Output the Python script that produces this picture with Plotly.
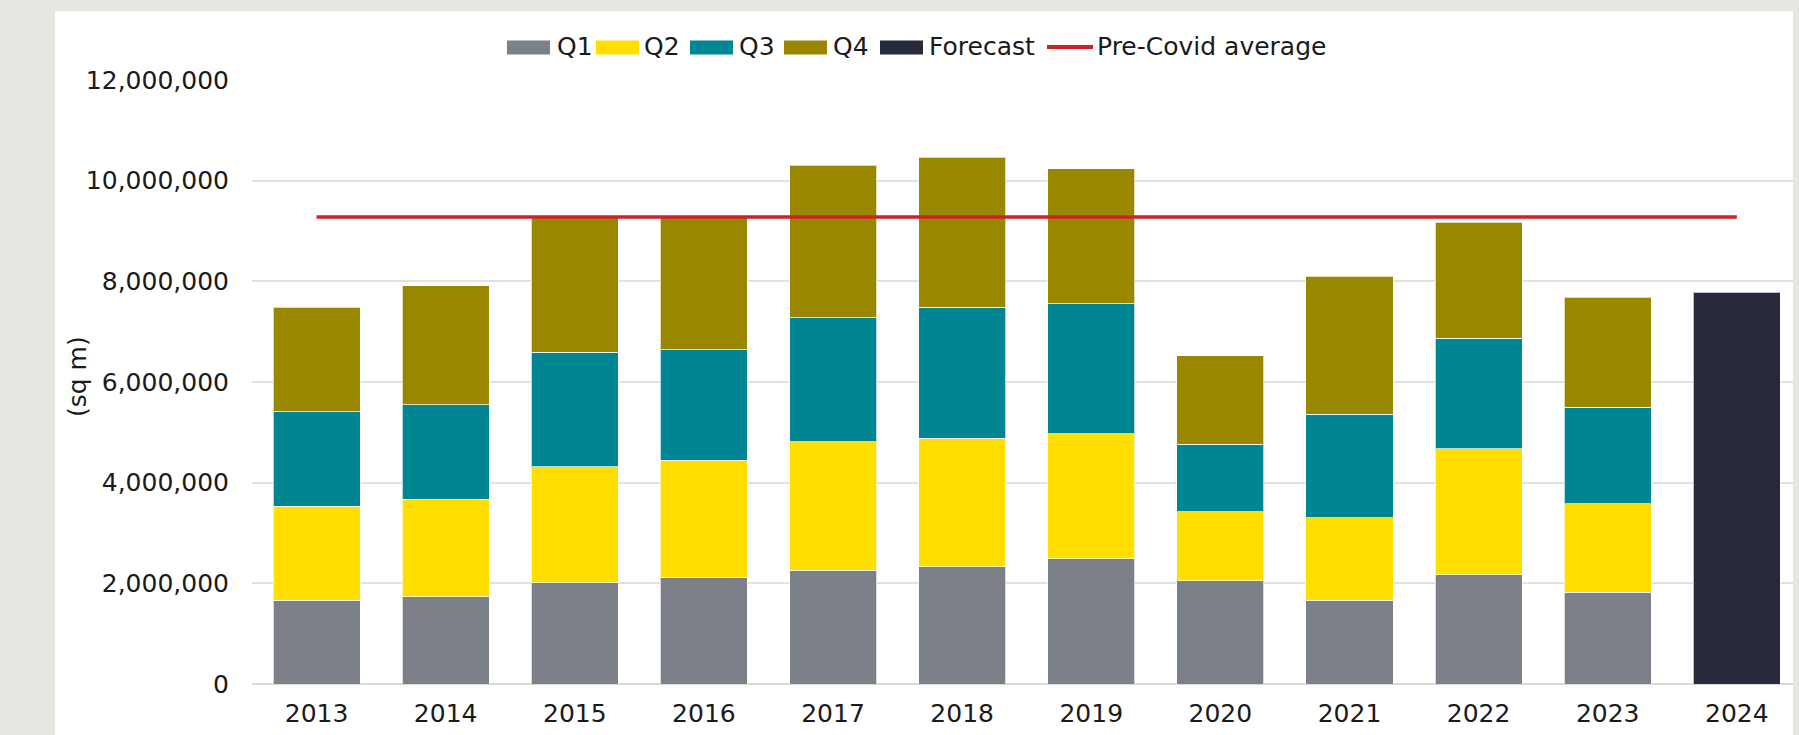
import plotly.graph_objects as go

years = ["2013", "2014", "2015", "2016", "2017", "2018", "2019", "2020", "2021", "2022", "2023", "2024"]
q1 = [1665000, 1734000, 2008000, 2122000, 2258000, 2327000, 2487000, 2053000, 1665000, 2167000, 1825000, None]
q2 = [1871000, 1939000, 2304000, 2327000, 2556000, 2555000, 2486000, 1369000, 1643000, 2510000, 1757000, None]
q3 = [1871000, 1871000, 2281000, 2190000, 2463000, 2601000, 2578000, 1346000, 2053000, 2190000, 1916000, None]
q4 = [2076000, 2372000, 2687000, 2621000, 3033000, 2987000, 2689000, 1757000, 2738000, 2303000, 2190000, None]
forecast = [None] * 11 + [7779000]
precovid_avg = 9280000

names = ["Q1", "Q2", "Q3", "Q4", "Forecast"]
colors = ["#7B8089", "#FFDE00", "#008692", "#998700", "#262A3B"]
line_name = "Pre-Covid average"
line_color = "#D0202A"

W, H = 1799, 735
L, R, T, B = 252, 6, 80, 51
pw, ph = W - L - R, H - T - B


def px(x):
    return (x - L) / pw


def py(y):
    return (H - B - y) / ph


FONT = "DejaVu Sans"
TXT = "#1A1A1A"

fig = go.Figure()
for name, vals, col in zip(names, [q1, q2, q3, q4, forecast], colors):
    fig.add_trace(go.Bar(x=years, y=vals, name=name,
                         marker=dict(color=col, line=dict(color="rgba(255,255,255,0.7)", width=1))))

fig.add_trace(go.Scatter(x=years, y=[precovid_avg] * len(years), name=line_name, mode="lines",
                         line=dict(color=line_color, width=3.5)))

# custom legend (wide rectangle swatches like the reference)
rect_x0 = [507, 596, 690, 784, 880]
text_x = [555, 642, 737, 831, 927]
shapes = [dict(type="rect", xref="paper", yref="paper", layer="below",
               x0=px(55), x1=1.0, y0=py(H) - 0.01, y1=py(11.5),
               fillcolor="white", line=dict(width=0))]
annotations = []
for name, col, rx, tx in zip(names, colors, rect_x0, text_x):
    shapes.append(dict(type="rect", xref="paper", yref="paper", x0=px(rx), x1=px(rx + 43),
                       y0=py(54.5), y1=py(40.5), fillcolor=col, line=dict(width=0)))
    annotations.append(dict(text=name, xref="paper", yref="paper", x=px(tx), y=py(46.5),
                            xanchor="left", yanchor="middle", showarrow=False,
                            font=dict(family=FONT, size=25, color=TXT)))
shapes.append(dict(type="line", xref="paper", yref="paper", x0=px(1047), x1=px(1093),
                   y0=py(47), y1=py(47), line=dict(color=line_color, width=4)))
annotations.append(dict(text=line_name, xref="paper", yref="paper", x=px(1095), y=py(46.5),
                        xanchor="left", yanchor="middle", showarrow=False,
                        font=dict(family=FONT, size=25, color=TXT)))
annotations.append(dict(text="(sq m)", xref="paper", yref="paper", x=px(77), y=py(377), textangle=-90,
                        showarrow=False, font=dict(family=FONT, size=25, color=TXT),
                        xanchor="center", yanchor="middle"))

fig.update_layout(
    width=W, height=H,
    margin=dict(l=L, r=R, t=T, b=B),
    barmode="stack", bargap=0.326,
    paper_bgcolor="#E5E7E1", plot_bgcolor="rgba(0,0,0,0)",
    font=dict(family=FONT, color=TXT),
    showlegend=False,
    shapes=shapes,
    annotations=annotations,
)
fig.update_xaxes(type="category", range=[-0.5, 11.435], showgrid=False, showline=False, ticks="",
                 tickfont=dict(family=FONT, size=25, color=TXT), ticklabelstandoff=12)
fig.update_yaxes(range=[0, 12000000], tickvals=[0, 2e6, 4e6, 6e6, 8e6, 10e6, 12e6], tickformat=",",
                 showgrid=True, gridcolor="#E2E2E2", gridwidth=1.5, zeroline=True, zerolinecolor="#D9D9D9",
                 zerolinewidth=1.5, tickfont=dict(family=FONT, size=25, color=TXT),
                 ticklabelstandoff=22)

fig.write_html("out.html", config={"displayModeBar": False},
               post_script="document.body.style.margin='0px';document.body.style.background='#E5E7E1';")
